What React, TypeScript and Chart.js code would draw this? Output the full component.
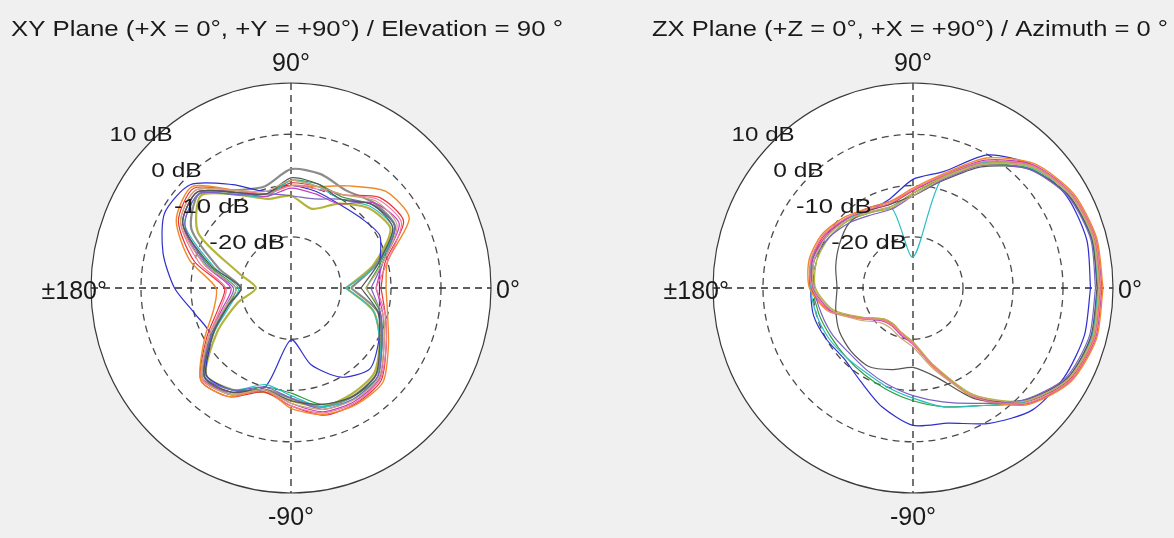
import React, { useEffect, useRef } from "react";
import { Chart, registerables } from "chart.js";

Chart.register(...registerables);

// ---------- data ----------
const ANGLES = [0, 15, 30, 45, 60, 75, 90, 105, 120, 135, 150, 165, 180, 195, 210, 225, 240, 255, 270, 285, 300, 315, 330, 345];
const DB_MIN = -30;
const DB_MAX = 10;
const RING_DB = [-20, -10, 0, 10];
const RING_LABELS = ["-20 dB", "-10 dB", "0 dB", "10 dB"];
const ANGLE_TOP = "90°";
const ANGLE_BOTTOM = "-90°";
const ANGLE_RIGHT = "0°";
const ANGLE_LEFT = "±180°";
const XY_TITLE = "XY Plane (+X = 0°, +Y = +90°) / Elevation = 90 °";
const ZX_TITLE = "ZX Plane (+Z = 0°, +X = +90°) / Azimuth = 0 °";

// XY plane (dB per angle)
const XY_BLUE = [-12.3, -11.6, -9.5, -10.5, -11, -10.5, -10, -10.5, -6.7, -1.5, -0.8, -3.5, -6.7, -10.2, -11.5, -6, -7, -10, -19.9, -14.5, -9.9, -7.7, -9.7, -11.7];
const XY_GREEN = [-15, -11.5, -6, -7, -9.5, -9, -9, -11, -8.5, -3.5, -5, -13, -19, -17, -11.5, -5, -6.5, -10, -9.5, -6.5, -5.5, -5.5, -9, -11.5];
const XY_RED = [-12, -10.5, -4, -5, -9, -9.5, -9.5, -11, -8, -2.5, -4, -10, -16.7, -15, -10.5, -4.5, -5.5, -9, -7, -4.3, -4, -4.5, -8, -10.5];
const XY_CYAN = [-19, -12, -6.5, -7.5, -10, -9.5, -9, -11.5, -9, -4, -5.5, -14, -19.5, -17.5, -12, -5.5, -7, -10.5, -9, -6, -5, -5.5, -9.5, -13];
const XY_MAGENTA = [-13, -11, -5, -6.5, -11, -11, -10.5, -11.5, -8.5, -3.5, -5, -12, -18, -16, -11, -5, -6.5, -9.5, -7.5, -5, -4.5, -5, -8.5, -11];
const XY_PURPLE = [-14, -11, -6, -7, -10, -12, -12, -11, -9, -4, -5.5, -12.5, -18.5, -16.5, -11.5, -5.5, -7, -10, -8.5, -5.5, -5, -5.5, -9, -11.5];
const XY_PINK = [-13, -10, -4.5, -5.5, -9, -10, -10, -11, -8, -3, -4.5, -11, -17, -15.5, -11, -4.8, -6, -9.5, -7, -4.8, -4.2, -4.8, -8, -10.5];
const XY_ORANGE = [-11, -10, -2.7, -3.3, -7, -9.5, -10, -11, -8, -2, -3.5, -9, -15, -14, -10, -4.5, -5.5, -9.5, -6.5, -4.5, -3.8, -4, -7.5, -10];
const XY_DARK = [-16, -12, -6.5, -7, -10, -9, -8.5, -11, -8.5, -3.5, -5, -13.5, -20, -17, -12, -5.5, -6.5, -9.5, -8, -6.5, -5.5, -6, -9.5, -12];
const XY_TAN = [-15, -11, -5.5, -6, -9, -9.5, -9, -10.5, -8, -3, -4.5, -12, -19, -16.5, -11, -5, -6, -9.5, -7.5, -5.5, -4.8, -5.2, -8.5, -11];
const XY_GRAY = [-18, -12.5, -6, -6.5, -8, -7, -6.8, -9.5, -8, -4, -7, -15, -20, -17, -12, -5.5, -6, -9.5, -8.5, -6, -5.5, -6, -9, -12];
const XY_OLIVE = [-19, -13, -7, -8, -11, -14, -12, -12, -9, -4.5, -8.6, -19.4, -23, -19, -13, -6, -7, -9, -8, -6, -6, -6.5, -9.5, -13];

// ZX plane (dB per angle)
const ZX_BLUE = [5.5, 6, 5.6, 3.8, 0, -6.5, -8.8, -12, -12.5, -11, -10, -9, -9.5, -9.4, -10, -10.5, -9, -6, -3.2, -2.7, 0.5, 3.7, 4.9, 5.5];
const ZX_GREEN = [7, 7, 6, 3, -2.2, -8, -11.5, -13.5, -13, -11.5, -10.5, -9.5, -10, -10.5, -11, -11, -10.5, -9.5, -8, -6, -3.5, 1.5, 5.5, 7];
const ZX_RED = [7.5, 7.5, 6.5, 3.8, -1.7, -7.5, -11, -13, -12.5, -11, -9.5, -9, -9.5, -12.8, -18.4, -21.5, -21.8, -21, -19.3, -14.3, -5.6, 1.5, 6, 7.5];
const ZX_CYAN = [7, 7.2, 6.3, 3.3, -1.7, -8, -24, -14, -13, -11, -10, -9, -9.5, -10, -10.5, -11, -11, -10, -8.5, -6, -3.5, 1.5, 5.8, 7];
const ZX_MAGENTA = [7.8, 7.8, 6.7, 4, -1.2, -7.3, -11, -12.5, -12, -11, -9.8, -9.2, -10, -13, -18, -21, -21.5, -20.5, -19, -14, -5.5, 2, 6.3, 7.8];
const ZX_OLIVE = [7.3, 7.4, 6.4, 3.6, -2, -7.7, -11.5, -13.8, -13, -11.5, -10.5, -10, -10.5, -13.5, -18.5, -21.5, -22, -21, -19.5, -14.5, -6, 1.2, 5.8, 7.3];
const ZX_GRAY = [6.8, 7, 6, 2.8, -2.7, -8.5, -12, -13, -12.5, -12, -13, -14, -14.8, -14, -13, -12.5, -12.3, -13.5, -14.5, -12, -5, 1, 5.5, 6.8];
const ZX_ORANGE = [8, 8, 7, 4.3, -0.7, -7, -10.5, -12.5, -12, -10.5, -9, -8.5, -9.3, -12.5, -18, -21.3, -21.6, -20.8, -19.2, -14, -5.2, 2.2, 6.5, 8];
const ZX_PURPLE = [6.5, 6.8, 5.8, 2.8, -2.4, -8.3, -12, -14, -13.5, -12, -10.5, -9.5, -10.2, -11, -11.5, -12, -11.5, -10.5, -9, -7, -4, 1, 5.2, 6.5];
const ZX_PINK = [7.6, 7.7, 6.6, 3.8, -1.5, -7.3, -10.8, -12.8, -12.3, -10.8, -9.3, -8.8, -9.8, -12.6, -18.2, -21.2, -21.7, -20.8, -19.2, -14.2, -5.4, 1.8, 6.2, 7.6];
const ZX_TAN = [7.2, 7.3, 6.3, 3.4, -2.2, -8, -12, -13.5, -12.8, -11.3, -10, -9.5, -10.2, -13.2, -17.5, -20.5, -21, -20, -18.5, -13.5, -5.8, 1.3, 5.7, 7.2];

type Series = { values: number[]; color: string; width: number };

const XY_SERIES: Series[] = [
  { values: XY_TAN, color: "#c8a878", width: 1.2 },
  { values: XY_DARK, color: "#555555", width: 1.2 },
  { values: XY_PINK, color: "#f27aa0", width: 1.2 },
  { values: XY_PURPLE, color: "#7a62c8", width: 1.2 },
  { values: XY_MAGENTA, color: "#c03cc0", width: 1.2 },
  { values: XY_CYAN, color: "#2bbfc4", width: 1.2 },
  { values: XY_GREEN, color: "#2e9e3e", width: 1.2 },
  { values: XY_ORANGE, color: "#f08a2a", width: 1.4 },
  { values: XY_RED, color: "#e8323a", width: 1.2 },
  { values: XY_BLUE, color: "#2f2fd0", width: 1.2 },
  { values: XY_GRAY, color: "#8c8c8c", width: 2.2 },
  { values: XY_OLIVE, color: "#b4b43c", width: 2.2 },
];

const ZX_SERIES: Series[] = [
  { values: ZX_TAN, color: "#c8a878", width: 1.2 },
  { values: ZX_PINK, color: "#f27aa0", width: 1.2 },
  { values: ZX_PURPLE, color: "#7a62c8", width: 1.2 },
  { values: ZX_GRAY, color: "#555555", width: 1.2 },
  { values: ZX_OLIVE, color: "#b4b43c", width: 1.4 },
  { values: ZX_ORANGE, color: "#f08a2a", width: 1.4 },
  { values: ZX_MAGENTA, color: "#c03cc0", width: 1.2 },
  { values: ZX_CYAN, color: "#2bbfc4", width: 1.2 },
  { values: ZX_GREEN, color: "#2e9e3e", width: 1.2 },
  { values: ZX_RED, color: "#e8323a", width: 1.2 },
  { values: ZX_BLUE, color: "#2f2fd0", width: 1.2 },
];

// ---------- helpers ----------
const FONT = '"Liberation Sans", Arial, sans-serif';
const W = 587;
const H = 538;

function toPoints(values: number[]) {
  const pts = values.map((db, i) => {
    const r = Math.max(0, db - DB_MIN);
    const t = (ANGLES[i] * Math.PI) / 180;
    return { x: r * Math.cos(t), y: r * Math.sin(t) };
  });
  pts.push({ ...pts[0] });
  return pts;
}

function drawText(
  ctx: CanvasRenderingContext2D,
  text: string,
  x: number,
  cy: number,
  size: number,
  align: "left" | "center" | "right",
  targetWidth?: number
) {
  ctx.save();
  ctx.font = `${size}px ${FONT}`;
  ctx.fillStyle = "#1a1a1a";
  ctx.textBaseline = "alphabetic";
  const w = ctx.measureText(text).width;
  const sx = targetWidth ? targetWidth / w : 1;
  const drawnW = w * sx;
  let left = x;
  if (align === "center") left = x - drawnW / 2;
  else if (align === "right") left = x - drawnW;
  ctx.translate(left, cy + size * 0.358);
  ctx.scale(sx, 1);
  ctx.textAlign = "left";
  ctx.fillText(text, 0, 0);
  ctx.restore();
}

type PlotCfg = {
  title: string;
  titleX: number;
  titleW: number;
  padLeft: number;
  padRight: number;
};

function makePlugin(cfg: PlotCfg) {
  const geom = (chart: any) => {
    const xs = chart.scales.x;
    const ys = chart.scales.y;
    const cx = xs.getPixelForValue(0);
    const cy = ys.getPixelForValue(0);
    const rOf = (db: number) => ({
      rx: xs.getPixelForValue(db - DB_MIN) - cx,
      ry: cy - ys.getPixelForValue(db - DB_MIN),
    });
    return { cx, cy, rOf };
  };
  return {
    id: "polarGrid",
    beforeDraw(chart: any) {
      const ctx = chart.ctx as CanvasRenderingContext2D;
      ctx.save();
      ctx.fillStyle = "#f0f0f0";
      ctx.fillRect(0, 0, chart.width, chart.height);
      ctx.restore();
    },
    beforeDatasetsDraw(chart: any) {
      const ctx = chart.ctx as CanvasRenderingContext2D;
      const { cx, cy, rOf } = geom(chart);
      const outer = rOf(DB_MAX);
      ctx.save();
      ctx.fillStyle = "#ffffff";
      ctx.beginPath();
      ctx.ellipse(cx, cy, outer.rx, outer.ry, 0, 0, Math.PI * 2);
      ctx.fill();
      // dashed rings
      ctx.strokeStyle = "#4a4a4a";
      ctx.lineWidth = 1.3;
      ctx.setLineDash([7, 5]);
      RING_DB.forEach((db) => {
        if (db >= DB_MAX) return;
        const r = rOf(db);
        ctx.beginPath();
        ctx.ellipse(cx, cy, r.rx, r.ry, 0, 0, Math.PI * 2);
        ctx.stroke();
      });
      // axes
      ctx.strokeStyle = "#2a2a2a";
      ctx.beginPath();
      ctx.moveTo(cx - outer.rx, cy);
      ctx.lineTo(cx + outer.rx, cy);
      ctx.moveTo(cx, cy - outer.ry);
      ctx.lineTo(cx, cy + outer.ry);
      ctx.stroke();
      // outer solid circle
      ctx.setLineDash([]);
      ctx.strokeStyle = "#3a3a3a";
      ctx.lineWidth = 1.2;
      ctx.beginPath();
      ctx.ellipse(cx, cy, outer.rx, outer.ry, 0, 0, Math.PI * 2);
      ctx.stroke();
      ctx.restore();
    },
    afterDatasetsDraw(chart: any) {
      const ctx = chart.ctx as CanvasRenderingContext2D;
      const { cx, cy, rOf } = geom(chart);
      const outer = rOf(DB_MAX);
      // ring labels along 135°
      RING_DB.forEach((db, i) => {
        const r = rOf(db);
        const lx = cx - 0.707 * (r.rx + 12);
        const ly = cy - 0.707 * (r.ry + 14);
        drawText(ctx, RING_LABELS[i], lx, ly, 21, "center", RING_LABELS[i].length * 12.6);
      });
      // angle labels
      drawText(ctx, ANGLE_TOP, cx, cy - outer.ry - 21, 25, "center");
      drawText(ctx, ANGLE_BOTTOM, cx, cy + outer.ry + 23, 25, "center");
      drawText(ctx, ANGLE_RIGHT, cx + outer.rx + 5, cy + 1, 25, "left");
      drawText(ctx, ANGLE_LEFT, cx - outer.rx + 16, cy + 2, 25, "right");
      // title
      drawText(ctx, cfg.title, cfg.titleX, 28, 22, "left", cfg.titleW);
    },
  };
}

function PolarPanel({ series, cfg }: { series: Series[]; cfg: PlotCfg }) {
  const ref = useRef<HTMLCanvasElement | null>(null);
  useEffect(() => {
    if (!ref.current) return;
    const chart = new Chart(ref.current, {
      type: "scatter",
      data: {
        datasets: series.map((s) => ({
          data: toPoints(s.values),
          showLine: true,
          borderColor: s.color,
          backgroundColor: s.color,
          borderWidth: s.width,
          pointRadius: 0,
          pointHoverRadius: 0,
          tension: 0.25,
          fill: false,
        })),
      },
      options: {
        animation: false,
        responsive: false,
        devicePixelRatio: 1,
        events: [],
        layout: { padding: { left: cfg.padLeft, right: cfg.padRight, top: 83, bottom: 45 } },
        scales: {
          x: { type: "linear", min: -(DB_MAX - DB_MIN), max: DB_MAX - DB_MIN, display: false },
          y: { type: "linear", min: -(DB_MAX - DB_MIN), max: DB_MAX - DB_MIN, display: false },
        },
        plugins: {
          legend: { display: false },
          tooltip: { enabled: false },
          title: { display: false },
        },
      } as any,
      plugins: [makePlugin(cfg)],
    });
    return () => chart.destroy();
  }, []);
  return <canvas ref={ref} width={W} height={H} style={{ display: "block", width: W, height: H }} />;
}

export default function App() {
  return (
    <div
      style={{
        position: "fixed",
        left: 0,
        top: 0,
        width: 1174,
        height: 538,
        background: "#f0f0f0",
        display: "flex",
      }}
    >
      <PolarPanel
        series={XY_SERIES}
        cfg={{ title: XY_TITLE, titleX: 11, titleW: 552, padLeft: 91, padRight: 96 }}
      />
      <PolarPanel
        series={ZX_SERIES}
        cfg={{ title: ZX_TITLE, titleX: 65, titleW: 516, padLeft: 126, padRight: 61 }}
      />
    </div>
  );
}
